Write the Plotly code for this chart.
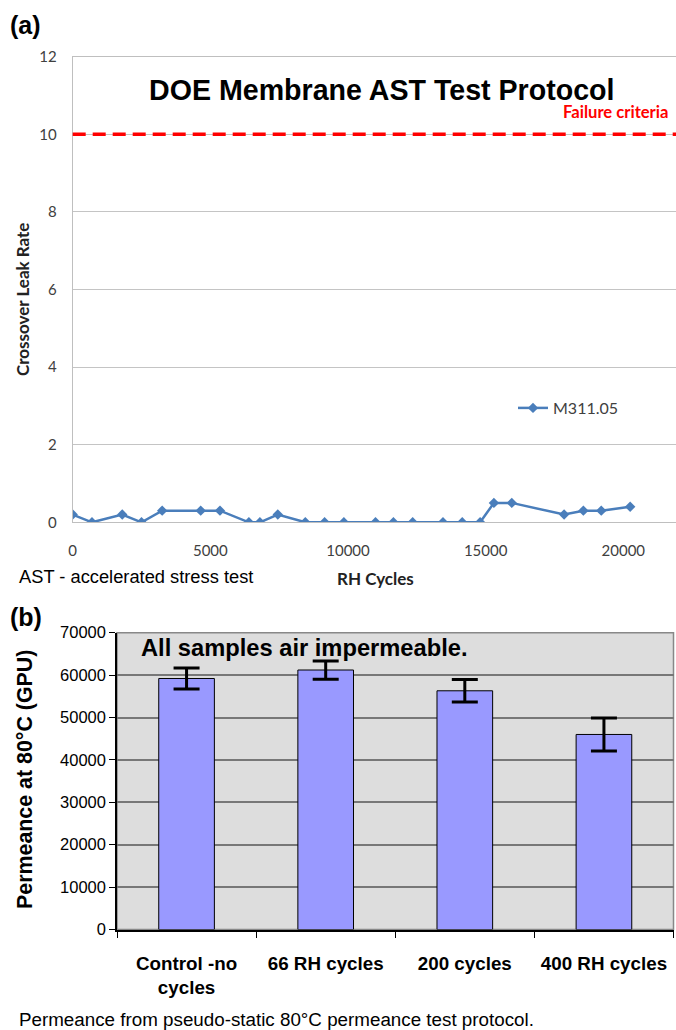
import plotly.graph_objects as go

W, H = 676, 1030

# ---------------- Panel (a) data ----------------
rh_cycles = [0, 700, 1800, 2500, 3250, 4650, 5350, 6400, 6800, 7450, 8450, 9150,
             9850, 11000, 11650, 12350, 13450, 14150, 14800, 15300, 15950,
             17850, 18550, 19200, 20250]
leak_rate = [0.2, 0, 0.2, 0, 0.3, 0.3, 0.3, 0, 0, 0.2, 0, 0, 0, 0, 0, 0, 0, 0,
             0, 0.5, 0.5, 0.2, 0.3, 0.3, 0.4]
series_name = "M311.05"
failure_criteria = 10
a_xticks = [0, 5000, 10000, 15000, 20000]
a_yticks = [0, 2, 4, 6, 8, 10, 12]

# ---------------- Panel (b) data ----------------
samples = ["Control -no<br>cycles", "66 RH cycles", "200 cycles", "400 RH cycles"]
permeance = [59200, 61200, 56300, 46000]
permeance_err = [2450, 2150, 2650, 3900]
b_yticks = [0, 10000, 20000, 30000, 40000, 50000, 60000, 70000]


def fx(px):
    return px / W


def fy(py):
    return 1 - py / H


ARIAL = "Liberation Sans, Arial, sans-serif"
CALIBRI = "Lato, Carlito, Calibri, sans-serif"

fig = go.Figure()

fig.add_trace(go.Scatter(
    x=rh_cycles, y=leak_rate, mode="lines+markers", name=series_name,
    line=dict(color="#4A7EBB", width=2.5),
    marker=dict(symbol="diamond", size=8, color="#4A7EBB"),
    xaxis="x", yaxis="y"))

fig.add_trace(go.Bar(
    x=samples, y=permeance, width=0.4, showlegend=False,
    marker=dict(color="#9999FF", line=dict(color="black", width=1)),
    error_y=dict(type="data", array=permeance_err, color="black",
                 thickness=3, width=13),
    xaxis="x2", yaxis="y2"))

fig.update_layout(
    template="none",
    width=W, height=H, autosize=False,
    margin=dict(l=0, r=0, t=0, b=0, pad=0, autoexpand=False),
    paper_bgcolor="white", plot_bgcolor="rgba(0,0,0,0)",
    showlegend=True,
    legend=dict(x=fx(513), y=fy(408), xanchor="left", yanchor="middle",
                bgcolor="rgba(0,0,0,0)", borderwidth=0,
                font=dict(family=CALIBRI, size=16, color="#404040")),
    xaxis=dict(domain=[fx(72.7), 1.0], range=[0, 21915], anchor="y",
               automargin=False,
               tickvals=a_xticks, tickformat="d", showgrid=False,
               zeroline=False,
               showline=True, linecolor="#BFBFBF", linewidth=1, mirror=True,
               ticks="outside", ticklen=15, tickcolor="rgba(0,0,0,0)",
               tickfont=dict(family=CALIBRI, size=15, color="#404040")),
    yaxis=dict(domain=[fy(522.3), fy(56.7)], range=[0, 12], anchor="x",
               automargin=False,
               tickvals=a_yticks, showgrid=True, gridcolor="#C4C4C4",
               gridwidth=1.2, zeroline=False,
               showline=True, linecolor="#BFBFBF", linewidth=1,
               ticks="outside", ticklen=12, tickcolor="rgba(0,0,0,0)",
               tickfont=dict(family=CALIBRI, size=15, color="#404040")),
    xaxis2=dict(domain=[fx(117), fx(673.5)], type="category",
                range=[-0.5, 3.5], anchor="y2", automargin=False,
                showgrid=False, zeroline=False,
                showline=True, linecolor="black", linewidth=1.5,
                ticks="outside", tickson="boundaries", ticklen=7,
                tickcolor="black", tickwidth=1.2,
                ticklabelstandoff=16,
                tickfont=dict(family=ARIAL, size=18.8, color="black",
                              weight="bold")),
    yaxis2=dict(domain=[fy(929.5), fy(632.7)], range=[0, 70000], anchor="x2",
                automargin=False,
                tickvals=b_yticks, tickformat="d", showgrid=True,
                gridcolor="#777777", gridwidth=1.5, zeroline=False,
                showline=True, linecolor="black", linewidth=1.5,
                ticks="outside", ticklen=6, tickcolor="black", tickwidth=1.2,
                tickfont=dict(family=ARIAL, size=16.5, color="black")),
)

fig.add_shape(type="rect", xref="x2 domain", yref="y2 domain",
              x0=0, x1=1, y0=0, y1=1, layer="below",
              fillcolor="#DDDDDD", line=dict(color="#888888", width=1.5))

fig.add_shape(type="line", xref="x domain", yref="y",
              x0=0, x1=1, y0=failure_criteria, y1=failure_criteria,
              line=dict(color="#FF0000", width=3.5, dash="13px,7px"))

annotations = [
    dict(text="(a)", x=fx(8), y=fy(25), xanchor="left", yanchor="middle",
         font=dict(family=ARIAL, size=25, color="black", weight="bold")),
    dict(text="DOE Membrane AST Test Protocol", x=fx(382), y=fy(90),
         xanchor="center", yanchor="middle",
         font=dict(family=ARIAL, size=28.6, color="black", weight="bold")),
    dict(text="Failure criteria", x=fx(670), y=fy(112),
         xanchor="right", yanchor="middle",
         font=dict(family=CALIBRI, size=16.6, color="#FF0000", weight="bold")),
    dict(text="Crossover Leak Rate", x=fx(22), y=fy(300), textangle=-90,
         xanchor="center", yanchor="middle",
         font=dict(family=CALIBRI, size=17, color="#222222", weight="bold")),
    dict(text="RH Cycles", x=fx(375), y=fy(578), xanchor="center",
         yanchor="middle",
         font=dict(family=CALIBRI, size=17, color="#222222", weight="bold")),
    dict(text="AST - accelerated stress test", x=fx(17), y=fy(576),
         xanchor="left", yanchor="middle",
         font=dict(family=ARIAL, size=18.3, color="black")),
    dict(text="(b)", x=fx(8), y=fy(617), xanchor="left", yanchor="middle",
         font=dict(family=ARIAL, size=25, color="black", weight="bold")),
    dict(text="All samples air impermeable.", x=fx(139), y=fy(648),
         xanchor="left", yanchor="middle",
         font=dict(family=ARIAL, size=23.7, color="black", weight="bold")),
    dict(text="Permeance at 80°C (GPU)", x=fx(25), y=fy(780), textangle=-90,
         xanchor="center", yanchor="middle",
         font=dict(family=ARIAL, size=21.4, color="black", weight="bold")),
    dict(text="Permeance from pseudo-static 80°C permeance test protocol.",
         x=fx(17), y=fy(1019), xanchor="left", yanchor="middle",
         font=dict(family=ARIAL, size=18.8, color="black")),
]
for a in annotations:
    a.update(xref="paper", yref="paper", showarrow=False)
fig.update_layout(annotations=annotations)

fig.write_html(
    "out.html",
    config={"displayModeBar": False},
    post_script="document.body.style.margin='0';document.body.style.overflow='hidden';",
)
